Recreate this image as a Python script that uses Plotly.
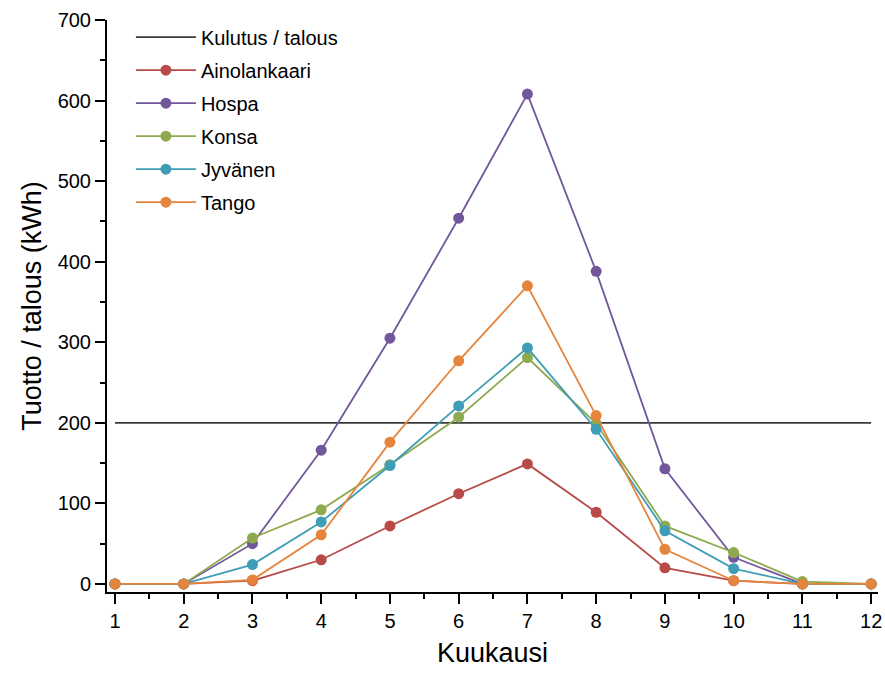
import plotly.graph_objects as go

# Kuukausittainen tuotto eri kohteissa verrattuna talouden kulutukseen
months = list(range(1, 13))
kulutus = [200] * 12
ainolankaari = [0, 0, 4, 30, 72, 112, 149, 89, 20, 4, 0, 0]
hospa = [0, 0, 50, 166, 305, 454, 608, 388, 143, 33, 0, 0]
konsa = [0, 0, 57, 92, 148, 207, 281, 199, 72, 39, 3, 0]
jyvanen = [0, 0, 24, 77, 147, 221, 293, 192, 66, 19, 0, 0]
tango = [0, 0, 5, 61, 176, 277, 370, 209, 43, 4, 0, 0]

series = [
    ("Ainolankaari", ainolankaari, "#b84b48"),
    ("Hospa", hospa, "#72589b"),
    ("Konsa", konsa, "#8eaa4e"),
    ("Jyvänen", jyvanen, "#3f9db5"),
    ("Tango", tango, "#e5853d"),
]

fig = go.Figure()
fig.add_trace(go.Scatter(
    x=months, y=kulutus, mode="lines", name="Kulutus / talous",
    line=dict(color="#3a3a3a", width=1.7), legendgroup="k",
))
for name, vals, color in series:
    fig.add_trace(go.Scatter(
        x=months, y=vals, mode="lines+markers", name=name,
        line=dict(color=color, width=1.8),
        marker=dict(color=color, size=11),
        legendgroup=name,
    ))

font_family = "Liberation Sans, Arial, sans-serif"
fig.update_layout(
    width=885, height=675,
    margin=dict(l=107, r=7, t=20, b=83),
    paper_bgcolor="white", plot_bgcolor="white",
    font=dict(family=font_family, color="black", size=20),
    legend=dict(
        x=0.031, y=1.004, xanchor="left", yanchor="top",
        bgcolor="rgba(0,0,0,0)", font=dict(size=20),
        tracegroupgap=4, traceorder="grouped", itemwidth=60,
    ),
    xaxis=dict(
        range=[0.884, 12.1], tickmode="array", tickvals=months,
        showline=True, linecolor="black", linewidth=2,
        ticks="outside", ticklen=10, tickwidth=2, tickcolor="black",
        minor=dict(dtick=0.5, tick0=0.5, ticks="outside", ticklen=5, tickwidth=2, tickcolor="black"),
        showgrid=False, zeroline=False, automargin=False,
        tickfont=dict(size=20),
        title=dict(text="Kuukausi", font=dict(size=27), standoff=12),
    ),
    yaxis=dict(
        range=[-10, 700], tickmode="linear", tick0=0, dtick=100,
        showline=True, linecolor="black", linewidth=2,
        ticks="outside", ticklen=10, tickwidth=2, tickcolor="black",
        minor=dict(dtick=50, ticks="outside", ticklen=5, tickwidth=2, tickcolor="black"),
        showgrid=False, zeroline=False, automargin=False,
        tickfont=dict(size=20),
        title=dict(text="Tuotto / talous (kWh)", font=dict(size=27), standoff=8),
    ),
)

fig.write_html("out.html")
